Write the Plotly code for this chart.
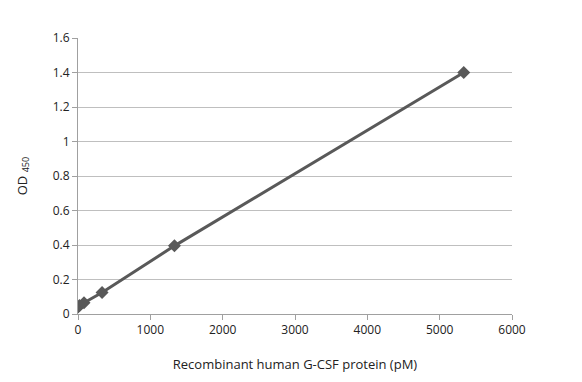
import plotly.graph_objects as go

conc_pM = [0, 5.2, 20.8, 83.3, 333, 1333, 5333]
od450 = [0.040, 0.043, 0.050, 0.065, 0.125, 0.395, 1.400]
x_ticks = [0, 1000, 2000, 3000, 4000, 5000, 6000]
y_ticks = [0, 0.2, 0.4, 0.6, 0.8, 1, 1.2, 1.4, 1.6]
y_tick_text = ["0", "0.2", "0.4", "0.6", "0.8", "1", "1.2", "1.4", "1.6"]

fig = go.Figure()
fig.add_trace(go.Scatter(
    x=conc_pM, y=od450, mode="lines+markers",
    line=dict(color="#595959", width=3),
    marker=dict(symbol="diamond", size=10, color="#595959"),
    showlegend=False,
))

font = dict(family="Open Sans, Liberation Sans, sans-serif", size=12, color="#222")
fig.update_layout(
    width=582, height=382,
    margin=dict(l=70, r=78, t=30, b=76),
    paper_bgcolor="white", plot_bgcolor="white",
    font=font,
    xaxis=dict(
        range=[0, 6000], tickvals=x_ticks, showgrid=False,
        showline=True, linecolor="#a0a0a0", linewidth=1,
        ticks="outside", ticklen=5, tickcolor="#a0a0a0",
        zeroline=False,
        title=dict(text="Recombinant human G-CSF protein (pM)", font=dict(size=13), standoff=22),
    ),
    yaxis=dict(
        range=[0, 1.6], tickvals=y_ticks, ticktext=y_tick_text,
        showgrid=True, gridcolor="#bfbfbf", gridwidth=1,
        showline=True, linecolor="#a0a0a0", linewidth=1,
        ticks="outside", ticklen=5, tickcolor="#a0a0a0",
        zeroline=False,
        title=dict(text="OD <sub>450</sub>", font=dict(size=13), standoff=22),
    ),
)
fig.write_html("out.html")
